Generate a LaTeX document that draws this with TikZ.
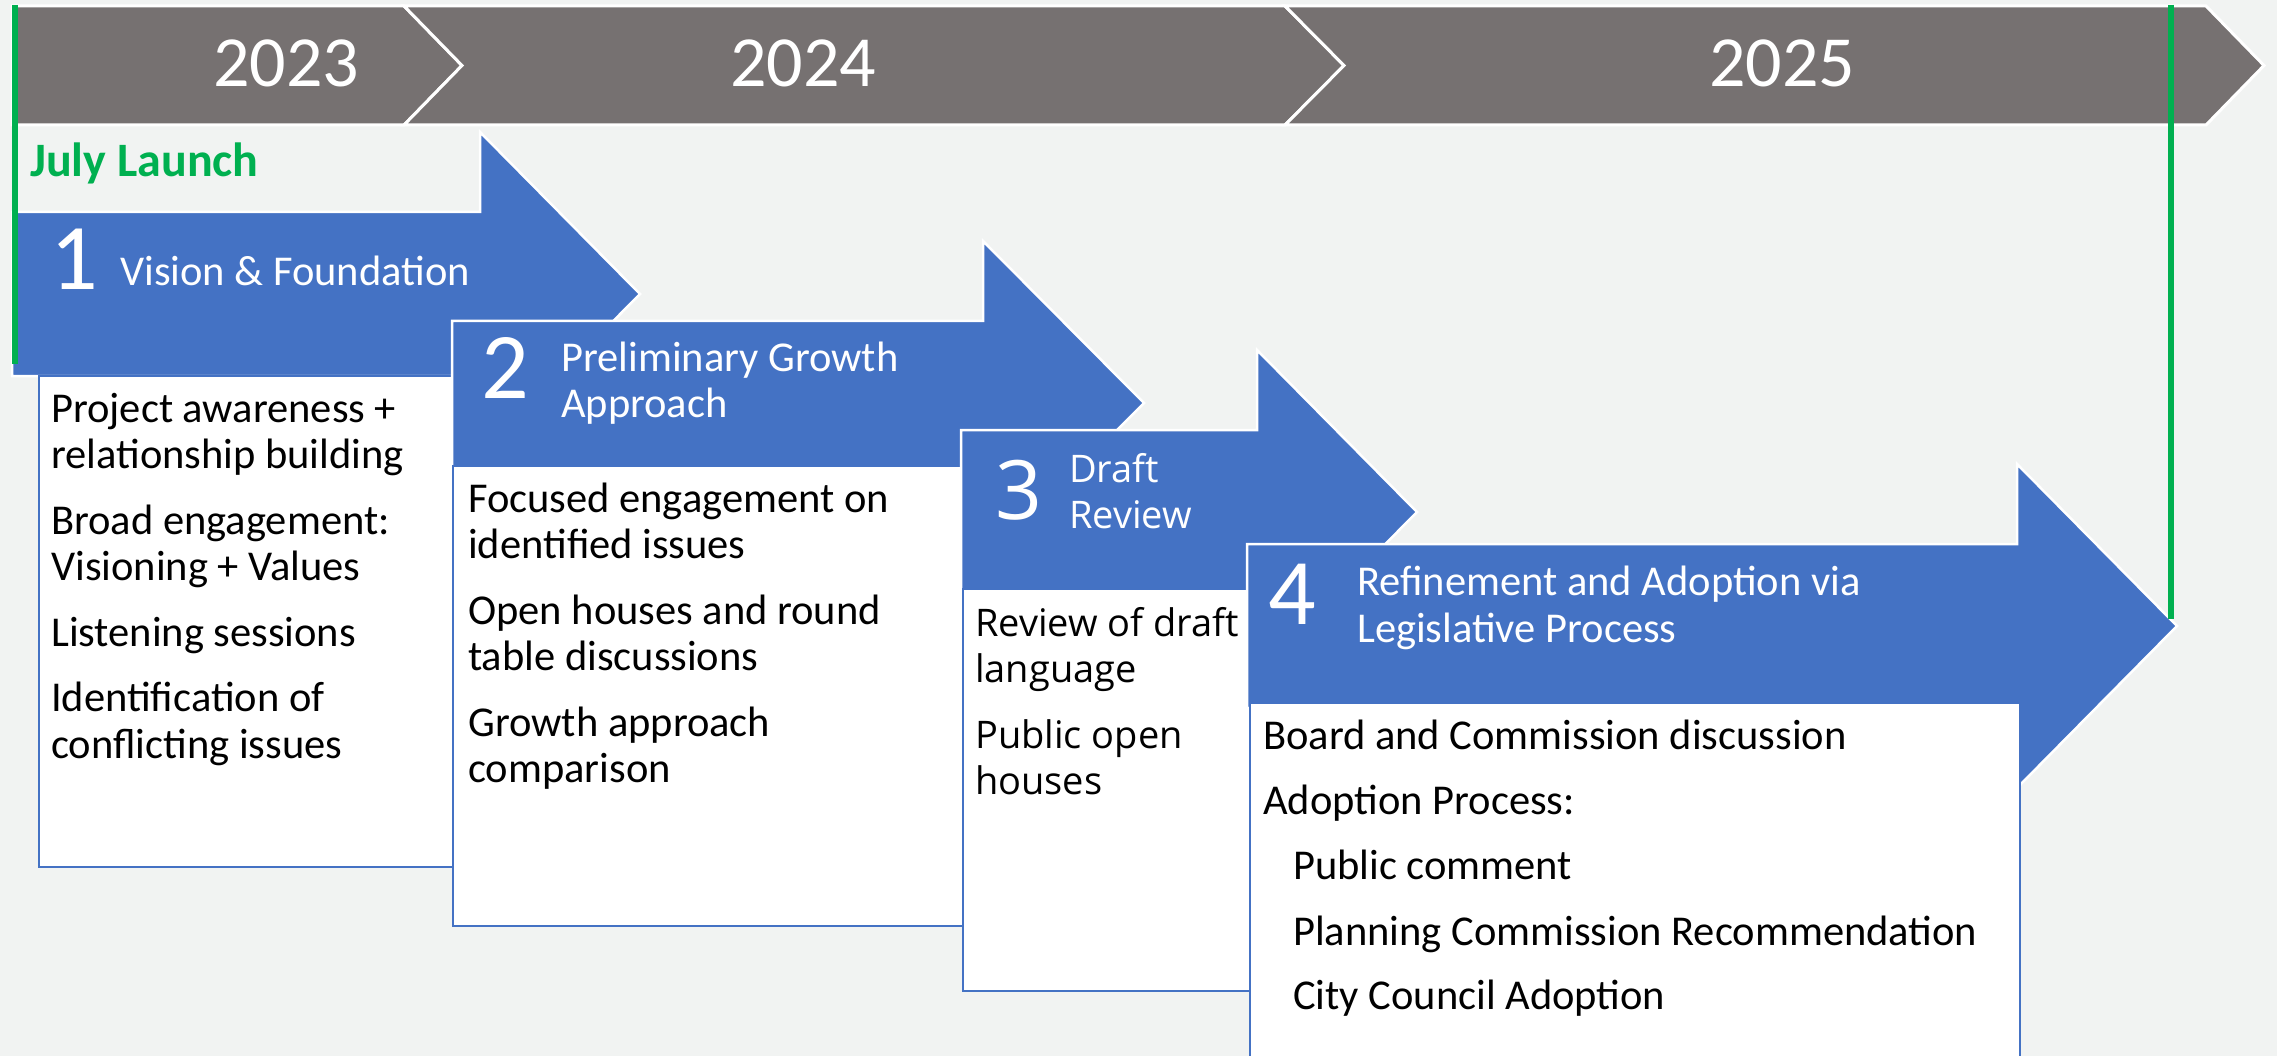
\documentclass[tikz,border=0pt]{standalone}
\usepackage{fontspec}
\setmainfont{Carlito}
\newfontfamily\segoe{Open Sans}
\definecolor{bargray}{HTML}{767171}
\definecolor{phaseblue}{HTML}{4472C4}
\definecolor{launchgreen}{HTML}{00B050}
\definecolor{paper}{HTML}{F1F3F2}
\tikzset{
  chev/.style={fill=bargray,draw=white,line width=3pt},
  phase/.style={fill=phaseblue,draw=white,line width=2.5pt},
  card/.style={fill=white,draw=phaseblue,line width=2pt},
  marker/.style={draw=launchgreen,line width=6pt},
  year/.style={text=white,anchor=base,inner sep=0,font=\fontsize{72}{72}\selectfont},
  num/.style={text=white,anchor=base west,inner sep=0,font=\fontsize{94}{94}\selectfont},
  head/.style={text=white,anchor=base west,inner sep=0,font=\fontsize{42.5}{46}\selectfont},
  body/.style={anchor=base west,inner sep=0,font=\fontsize{42.5}{46}\selectfont},
}
\begin{document}
\begin{tikzpicture}[x=1pt,y=-1pt]
\useasboundingbox (0,0) rectangle (2277,1056);
\fill[paper] (0,0) rectangle (2277,1056);
% year bar
\draw[chev] (12,6) -- (404,6) -- (462,65.5) -- (404,125) -- (12,125) -- cycle;
\draw[chev] (404,6) -- (1285,6) -- (1344,65.5) -- (1285,125) -- (404,125) -- (462,65.5) -- cycle;
\draw[chev] (1285,6) -- (2206,6) -- (2264,65.5) -- (2206,125) -- (1285,125) -- (1344,65.5) -- cycle;
\node[year] (y23) at (286,87) {2023};
\node[year] (y24) at (803,87) {2024};
\node[year] (y25) at (1782,87) {2025};
% phase arrows and cards
\foreach \l/\c/\n/\t/\bl/\bt/\br/\bb in {12/294/480/640/39/376/453/867,
    452/403/983/1144/453/466/975/926,
    961/512/1257/1417/963/589/1255/991,
    1247/626/2017/2177/1250/703/2020/1075} {
  \draw[phase] (\l,\c-82) -- (\n,\c-82) -- (\n,\c-162) -- (\t,\c) -- (\n,\c+162) -- (\n,\c+82) -- (\l,\c+82) -- cycle;
  \draw[card] (\bl,\bt) rectangle (\br,\bb);
}
% launch and end markers
\coordinate (s0) at (15,5);
\coordinate (s1) at (15,364);
\coordinate (e0) at (2171,5);
\coordinate (e1) at (2171,619);
\draw[marker] (s0) -- (s1);
\draw[marker] (e0) -- (e1);
\node[anchor=base west,inner sep=0,text=launchgreen,font=\fontsize{48}{48}\selectfont\bfseries] (july) at (30,177) {July Launch};
% phase titles
\node[num] (n1) at (50,290) {1};
\node[head] (h1) at (120,286) {Vision \& Foundation};
\node[num] (n2) at (481,398) {2};
\node[head] (h2a) at (561,371) {Preliminary Growth};
\node[head] (h2b) at (561,417) {Approach};
\node[num,font=\fontsize{82}{82}\selectfont\segoe] (n3) at (995,519) {3};
\node[head,font=\fontsize{38}{46}\selectfont\segoe] (h3a) at (1069,482) {Draft};
\node[head,font=\fontsize{38}{46}\selectfont\segoe] (h3b) at (1069,528) {Review};
\node[num] (n4) at (1268,624) {4};
\node[head] (h4a) at (1357,595) {Refinement and Adoption via};
\node[head] (h4b) at (1357,642) {Legislative Process};
% card texts
\foreach \txt/\y [count=\i] in {Project awareness +/422, relationship building/468.5,
    Broad engagement:/534, Visioning + Values/580.5, Listening sessions/646,
    Identification of/711.5, conflicting issues/758}
  \node[body] (c1-\i) at (51,\y) {\txt};
\foreach \txt/\y [count=\i] in {Focused engagement on/512, identified issues/558.5,
    Open houses and round/624, table discussions/670.5,
    Growth approach/736, comparison/782.5}
  \node[body] (c2-\i) at (468,\y) {\txt};
\foreach \txt/\y [count=\i] in {Review of draft/636, language/682.5,
    Public open/748, houses/794.5}
  \node[body,font=\fontsize{38}{46}\selectfont\segoe] (c3-\i) at (975,\y) {\txt};
\foreach \txt/\x/\y [count=\i] in {Board and Commission discussion/1263/749,
    Adoption Process:/1263/814, Public comment/1293/879,
    Planning Commission Recommendation/1293/945, City Council Adoption/1293/1009}
  \node[body] (c4-\i) at (\x,\y) {\txt};
\end{tikzpicture}
\end{document}
